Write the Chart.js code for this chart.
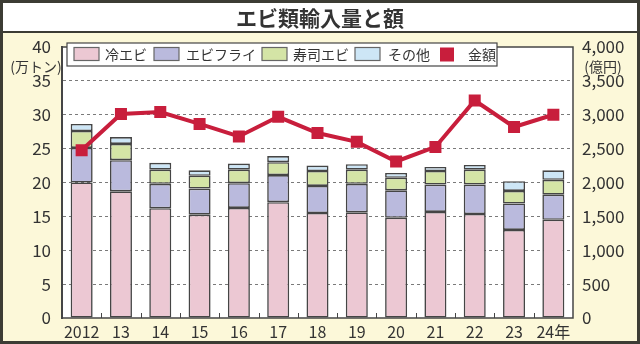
<!DOCTYPE html>
<html>
<head>
<meta charset="utf-8">
<script src="https://cdn.jsdelivr.net/npm/chart.js@4"></script>
<style>
  html, body { margin: 0; padding: 0; background: #fff; }
  #wrap { width: 640px; height: 344px; }
</style>
</head>
<body>
<div id="wrap"><canvas id="c" width="640" height="344"></canvas></div>
<script>
const years = ['2012', '13', '14', '15', '16', '17', '18', '19', '20', '21', '22', '23', '24年'];
// 万トン
const reiEbi = [20.0, 18.7, 16.2, 15.25, 16.25, 17.1, 15.5, 15.6, 14.8, 15.65, 15.35, 13.0, 14.5];
const ebiFry = [5.1, 4.6, 3.6, 3.85, 3.65, 4.0, 4.0, 4.2, 4.05, 4.05, 4.35, 3.9, 3.7];
const sushiEbi = [2.5, 2.4, 2.1, 1.9, 2.0, 1.9, 2.2, 2.1, 1.85, 2.0, 2.2, 1.85, 2.2];
const sonota = [1.05, 1.0, 1.0, 0.8, 0.9, 0.9, 0.8, 0.8, 0.7, 0.6, 0.7, 1.45, 1.4];
// 億円
const kingaku = [2475, 3010, 3040, 2865, 2680, 2970, 2730, 2600, 2310, 2525, 3210, 2820, 3000];

const leftTicks = [0, 5, 10, 15, 20, 25, 30, 35, 40];
const rightTicks = [0, 500, 1000, 1500, 2000, 2500, 3000, 3500, 4000];

const FONT = '"Noto Sans CJK JP", "Noto Sans", sans-serif';
const EDGE = '#454545';
const RED = '#c81e3c';

const barSets = [
  { label: '冷エビ', data: reiEbi, color: '#ecc8d3' },
  { label: 'エビフライ', data: ebiFry, color: '#babadd' },
  { label: '寿司エビ', data: sushiEbi, color: '#d4e4a6' },
  { label: 'その他', data: sonota, color: '#cde6f6' }
];

const frame = {
  id: 'frame',
  beforeDraw(chart) {
    const ctx = chart.ctx, a = chart.chartArea;
    ctx.save();
    ctx.fillStyle = '#fcf8d9';
    ctx.fillRect(0, 0, 640, 344);
    ctx.fillStyle = '#fff';
    ctx.fillRect(3, 3, 634, 29);
    ctx.strokeStyle = '#3c3c34';
    ctx.lineWidth = 3;
    ctx.strokeRect(1.5, 1.5, 637, 341);
    ctx.lineWidth = 2;
    ctx.beginPath();
    ctx.moveTo(0, 32); ctx.lineTo(640, 32);
    ctx.stroke();
    ctx.fillStyle = '#333';
    ctx.font = 'bold 21px ' + FONT;
    ctx.textAlign = 'center';
    ctx.textBaseline = 'middle';
    ctx.fillText('エビ類輸入量と額', 320, 18);
    ctx.fillStyle = '#fff';
    ctx.fillRect(a.left, a.top, a.right - a.left, a.bottom - a.top);
    ctx.restore();
  },
  afterDraw(chart) {
    const ctx = chart.ctx, a = chart.chartArea, x = chart.scales.x;
    ctx.save();
    ctx.strokeStyle = EDGE;
    ctx.lineWidth = 1.5;
    ctx.strokeRect(a.left, a.top, a.right - a.left, a.bottom - a.top);
    // small ticks between categories
    ctx.lineWidth = 1;
    const step = x.getPixelForValue(1) - x.getPixelForValue(0);
    for (let i = 1; i < years.length; i++) {
      const px = Math.round(x.getPixelForValue(i) - step / 2) + 0.5;
      ctx.beginPath();
      ctx.moveTo(px, a.bottom);
      ctx.lineTo(px, a.bottom - 5);
      ctx.stroke();
    }
    // unit labels
    ctx.fillStyle = '#333';
    ctx.font = '14px ' + FONT;
    ctx.textBaseline = 'middle';
    ctx.textAlign = 'center';
    ctx.fillText('(万トン)', 36, 67);
    ctx.fillText('(億円)', 603, 67);
    // legend
    ctx.fillStyle = '#fff';
    ctx.fillRect(67, 43, 430, 23);
    ctx.strokeStyle = EDGE;
    ctx.lineWidth = 1.2;
    ctx.strokeRect(67, 43, 430, 23);
    ctx.font = '14px ' + FONT;
    ctx.textAlign = 'left';
    const sw = [74, 154, 262, 355];
    const tx = [105, 186, 293, 388];
    barSets.forEach((s, i) => {
      ctx.fillStyle = s.color;
      ctx.fillRect(sw[i], 47.5, 25, 13);
      ctx.strokeStyle = '#666';
      ctx.strokeRect(sw[i], 47.5, 25, 13);
      ctx.fillStyle = '#333';
      ctx.fillText(s.label, tx[i], 55);
    });
    ctx.fillStyle = RED;
    ctx.fillRect(440, 47.5, 14, 14);
    ctx.fillStyle = '#333';
    ctx.fillText('金額', 468, 55);
    ctx.restore();
  }
};

const datasets = [
  {
    type: 'line',
    label: '金額',
    data: kingaku,
    yAxisID: 'y2',
    borderColor: RED,
    backgroundColor: RED,
    borderWidth: 4,
    pointStyle: 'rect',
    pointRadius: 8.5,
    pointBackgroundColor: RED,
    pointBorderWidth: 0,
    tension: 0,
    order: 0
  }
].concat(barSets.map(s => ({
  type: 'bar',
  label: s.label,
  data: s.data,
  yAxisID: 'y',
  backgroundColor: s.color,
  borderColor: EDGE,
  borderWidth: 1.6,
  borderSkipped: false,
  barPercentage: 0.56,
  categoryPercentage: 1,
  order: 1
})));

new Chart(document.getElementById('c'), {
  data: { labels: years, datasets: datasets },
  options: {
    responsive: false,
    animation: false,
    layout: { padding: { left: 0, right: 0, top: 47, bottom: 0 } },
    plugins: {
      legend: { display: false },
      title: { display: false },
      tooltip: { enabled: false }
    },
    scales: {
      x: {
        stacked: true,
        grid: { display: false, drawTicks: false },
        border: { display: false },
        ticks: { color: '#333', font: { family: FONT, size: 16 }, padding: 4, maxRotation: 0, autoSkip: false },
        afterFit(s) { s.height = 26; }
      },
      y: {
        stacked: true,
        position: 'left',
        min: 0, max: 40,
        afterBuildTicks(s) { s.ticks = leftTicks.map(v => ({ value: v })); },
        grid: {
          drawTicks: false,
          color: ctx => (ctx.tick && (ctx.tick.value === 0 || ctx.tick.value === 40)) ? 'rgba(0,0,0,0)' : '#7a7a7a',
          lineWidth: 1
        },
        border: { display: true, color: EDGE, width: 2, dash: [3, 3] },
        ticks: { color: '#333', font: { family: FONT, size: 17 }, padding: 11 },
        afterFit(s) { s.width = 62; }
      },
      y2: {
        position: 'right',
        min: 0, max: 4000,
        afterBuildTicks(s) { s.ticks = rightTicks.map(v => ({ value: v })); },
        grid: { display: false, drawTicks: false },
        border: { display: false },
        ticks: {
          color: '#333', font: { family: FONT, size: 17 }, padding: 9,
          callback: v => v.toLocaleString('en-US')
        },
        afterFit(s) { s.width = 67; }
      }
    }
  },
  plugins: [frame]
});
</script>
</body>
</html>
